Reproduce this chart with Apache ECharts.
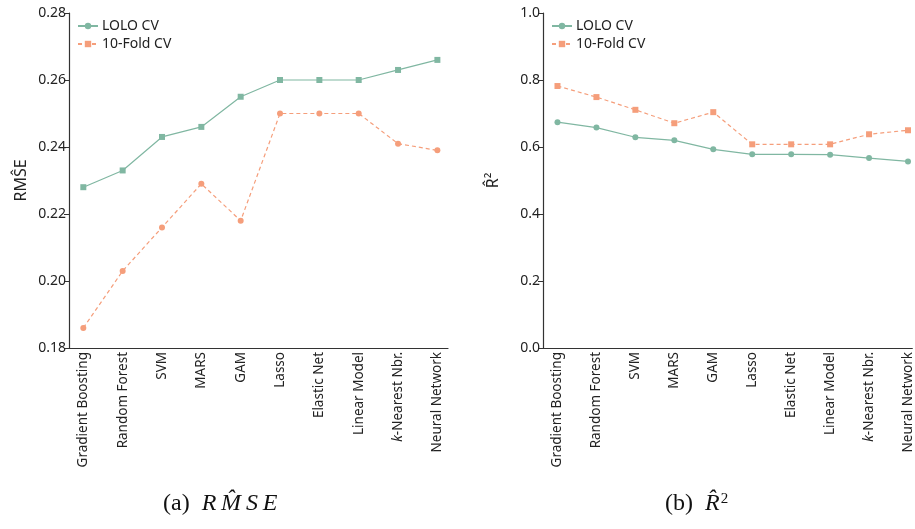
<!DOCTYPE html>
<html>
<head>
<meta charset="utf-8">
<script src="https://cdn.jsdelivr.net/npm/echarts@6/dist/echarts.min.js"></script>
<style>
  html, body { margin: 0; padding: 0; background: #fff; }
  #main { width: 915px; height: 529px; }
</style>
</head>
<body>
<div id="main"></div>
<script>
// 模型名称（x轴）
var models = ['Gradient Boosting', 'Random Forest', 'SVM', 'MARS', 'GAM', 'Lasso',
              'Elastic Net', 'Linear Model', 'k-Nearest Nbr.', 'Neural Network'];

// (a) RMSE
var rmseLolo = [0.228, 0.233, 0.243, 0.246, 0.255, 0.260, 0.260, 0.260, 0.263, 0.266];
var rmseFold = [0.186, 0.203, 0.216, 0.229, 0.218, 0.250, 0.250, 0.250, 0.241, 0.239];

// (b) R^2
var r2Lolo = [0.674, 0.658, 0.629, 0.620, 0.593, 0.578, 0.578, 0.577, 0.567, 0.557];
var r2Fold = [0.782, 0.749, 0.711, 0.671, 0.704, 0.608, 0.608, 0.608, 0.638, 0.650];

var green = '#80b7a2';
var orange = '#f59e7b';
var font = 'Noto Sans';

function pairs(arr) {
  return arr.map(function (v, i) { return [i, v]; });
}

var myChart = echarts.init(document.getElementById('main'));

function xAxisOf(gridIndex, min, max) {
  return {
    type: 'value',
    gridIndex: gridIndex,
    min: min,
    max: max,
    splitLine: { show: false },
    axisLine: { show: true, onZero: false, lineStyle: { color: '#333', width: 1.2 } },
    axisTick: { show: false },
    axisLabel: {
      customValues: models.map(function (m, i) { return i; }),
      rotate: 90,
      margin: 4,
      fontSize: 13.5,
      fontFamily: font,
      color: '#222',
      // k 用斜体
      formatter: function (v) {
        var s = models[Math.round(v)];
        if (s.indexOf('k-') === 0) return '{i|k}' + s.slice(1);
        return s;
      },
      rich: { i: { fontStyle: 'italic', fontSize: 13.5, fontFamily: font, color: '#222' } }
    }
  };
}

function yAxisOf(gridIndex, min, max, interval, digits, name, gap) {
  return {
    type: 'value',
    gridIndex: gridIndex,
    min: min,
    max: max,
    interval: interval,
    name: name,
    nameLocation: 'middle',
    nameGap: gap,
    nameTextStyle: { fontSize: 16, fontFamily: font, color: '#222' },
    splitLine: { show: false },
    axisLine: { show: true, onZero: false, lineStyle: { color: '#333', width: 1.2 } },
    axisTick: { show: true, length: 5, lineStyle: { color: '#333' } },
    axisLabel: {
      fontSize: 14,
      fontFamily: font,
      color: '#222',
      margin: 3,
      formatter: function (v) { return v.toFixed(digits); }
    }
  };
}

function lineSeries(name, data, xi, symbol, dashed, color, size) {
  return {
    name: name,
    type: 'line',
    xAxisIndex: xi,
    yAxisIndex: xi,
    data: pairs(data),
    symbol: symbol,
    symbolSize: size,
    showSymbol: true,
    itemStyle: { color: color },
    lineStyle: { color: color, width: 1.2, type: dashed ? [4, 3] : 'solid' },
    emphasis: { disabled: true },
    animation: false
  };
}

var legendBase = {
  orient: 'vertical',
  itemWidth: 20,
  itemHeight: 8,
  itemGap: 4,
  textStyle: { fontSize: 14, fontFamily: font, color: '#222', padding: [0, 0, 0, -1] },
  data: ['LOLO CV', '10-Fold CV']
};

var option = {
  backgroundColor: '#fff',
  grid: [
    { left: 69, top: 13, width: 379, height: 335 },
    { left: 543, top: 13, width: 372, height: 335 }
  ],
  legend: [
    Object.assign({}, legendBase, { left: 72, top: 14 }),
    Object.assign({}, legendBase, { left: 546, top: 14 })
  ],
  xAxis: [
    xAxisOf(0, -0.364, 9.27),
    xAxisOf(1, -0.372, 9.11)
  ],
  yAxis: [
    yAxisOf(0, 0.18, 0.28, 0.02, 2, 'RMŜE', 40),
    yAxisOf(1, 0, 1, 0.2, 1, 'R̂²', 42)
  ],
  series: [
    // 右图放在前面，图例图标取自右图（圆=LOLO，方=10-Fold）
    lineSeries('LOLO CV', r2Lolo, 1, 'circle', false, green, 6),
    lineSeries('10-Fold CV', r2Fold, 1, 'rect', true, orange, 6),
    lineSeries('LOLO CV', rmseLolo, 0, 'rect', false, green, 6),
    lineSeries('10-Fold CV', rmseFold, 0, 'circle', true, orange, 6)
  ],
  graphic: [
    {
      type: 'text', left: 163, top: 492,
      style: {
        text: '(a)  {i|R\u2009M\u0302\u2009S\u2009E}',
        font: '24px "Liberation Serif"', fill: '#111',
        rich: { i: { fontStyle: 'italic', fontSize: 24, fontFamily: 'Liberation Serif' } }
      }
    },
    {
      type: 'text', left: 665, top: 492,
      style: {
        text: '(b)  {i|R\u0302}{s|2}',
        font: '24px "Liberation Serif"', fill: '#111',
        rich: {
          i: { fontStyle: 'italic', fontSize: 24, fontFamily: 'Liberation Serif' },
          s: { fontSize: 15, fontFamily: 'Liberation Serif', verticalAlign: 'top', padding: [0, 0, 8, 1] }
        }
      }
    }
  ]
};

myChart.setOption(option);
</script>
</body>
</html>
